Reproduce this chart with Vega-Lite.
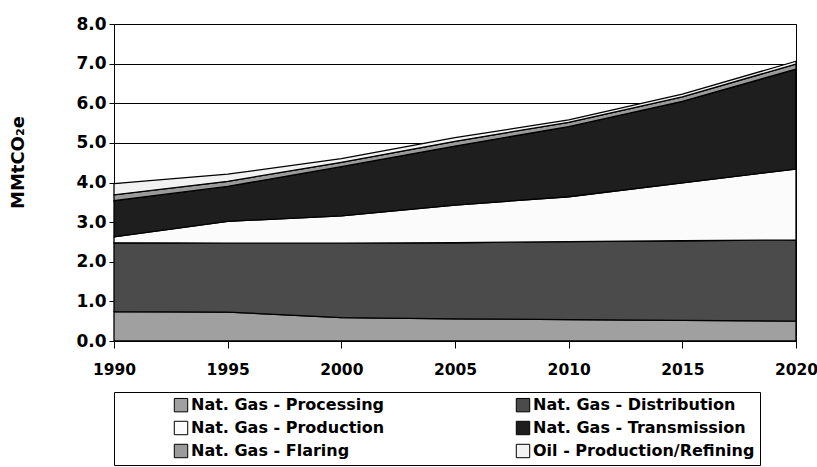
{
  "$schema": "https://vega.github.io/schema/vega-lite/v6.json",
  "width": 682,
  "height": 317,
  "autosize": {"type": "none"},
  "padding": {"left": 114, "top": 24, "right": 21, "bottom": 126},
  "background": "white",
  "config": {
    "font": "DejaVu Sans",
    "view": {"stroke": "black", "strokeWidth": 1},
    "axis": {
      "labelFont": "DejaVu Sans",
      "labelFontWeight": "bold",
      "labelColor": "black",
      "domainColor": "black",
      "tickColor": "black",
      "gridColor": "black",
      "gridOpacity": 1,
      "titleColor": "black",
      "titleFont": "DejaVu Sans",
      "titleFontWeight": "bold"
    }
  },
  "data": {
    "values": [
      {"year": 1990, "rank": 1, "source": "Nat. Gas - Processing", "value": 0.74},
      {"year": 1995, "rank": 1, "source": "Nat. Gas - Processing", "value": 0.73},
      {"year": 2000, "rank": 1, "source": "Nat. Gas - Processing", "value": 0.59},
      {"year": 2005, "rank": 1, "source": "Nat. Gas - Processing", "value": 0.56},
      {"year": 2010, "rank": 1, "source": "Nat. Gas - Processing", "value": 0.54},
      {"year": 2015, "rank": 1, "source": "Nat. Gas - Processing", "value": 0.52},
      {"year": 2020, "rank": 1, "source": "Nat. Gas - Processing", "value": 0.50},
      {"year": 1990, "rank": 2, "source": "Nat. Gas - Distribution", "value": 1.74},
      {"year": 1995, "rank": 2, "source": "Nat. Gas - Distribution", "value": 1.74},
      {"year": 2000, "rank": 2, "source": "Nat. Gas - Distribution", "value": 1.88},
      {"year": 2005, "rank": 2, "source": "Nat. Gas - Distribution", "value": 1.92},
      {"year": 2010, "rank": 2, "source": "Nat. Gas - Distribution", "value": 1.97},
      {"year": 2015, "rank": 2, "source": "Nat. Gas - Distribution", "value": 2.01},
      {"year": 2020, "rank": 2, "source": "Nat. Gas - Distribution", "value": 2.05},
      {"year": 1990, "rank": 3, "source": "Nat. Gas - Production", "value": 0.15},
      {"year": 1995, "rank": 3, "source": "Nat. Gas - Production", "value": 0.55},
      {"year": 2000, "rank": 3, "source": "Nat. Gas - Production", "value": 0.69},
      {"year": 2005, "rank": 3, "source": "Nat. Gas - Production", "value": 0.95},
      {"year": 2010, "rank": 3, "source": "Nat. Gas - Production", "value": 1.13},
      {"year": 2015, "rank": 3, "source": "Nat. Gas - Production", "value": 1.46},
      {"year": 2020, "rank": 3, "source": "Nat. Gas - Production", "value": 1.79},
      {"year": 1990, "rank": 4, "source": "Nat. Gas - Transmission", "value": 0.91},
      {"year": 1995, "rank": 4, "source": "Nat. Gas - Transmission", "value": 0.88},
      {"year": 2000, "rank": 4, "source": "Nat. Gas - Transmission", "value": 1.24},
      {"year": 2005, "rank": 4, "source": "Nat. Gas - Transmission", "value": 1.49},
      {"year": 2010, "rank": 4, "source": "Nat. Gas - Transmission", "value": 1.77},
      {"year": 2015, "rank": 4, "source": "Nat. Gas - Transmission", "value": 2.06},
      {"year": 2020, "rank": 4, "source": "Nat. Gas - Transmission", "value": 2.52},
      {"year": 1990, "rank": 5, "source": "Nat. Gas - Flaring", "value": 0.15},
      {"year": 1995, "rank": 5, "source": "Nat. Gas - Flaring", "value": 0.13},
      {"year": 2000, "rank": 5, "source": "Nat. Gas - Flaring", "value": 0.11},
      {"year": 2005, "rank": 5, "source": "Nat. Gas - Flaring", "value": 0.12},
      {"year": 2010, "rank": 5, "source": "Nat. Gas - Flaring", "value": 0.11},
      {"year": 2015, "rank": 5, "source": "Nat. Gas - Flaring", "value": 0.11},
      {"year": 2020, "rank": 5, "source": "Nat. Gas - Flaring", "value": 0.13},
      {"year": 1990, "rank": 6, "source": "Oil - Production/Refining", "value": 0.28},
      {"year": 1995, "rank": 6, "source": "Oil - Production/Refining", "value": 0.18},
      {"year": 2000, "rank": 6, "source": "Oil - Production/Refining", "value": 0.09},
      {"year": 2005, "rank": 6, "source": "Oil - Production/Refining", "value": 0.09},
      {"year": 2010, "rank": 6, "source": "Oil - Production/Refining", "value": 0.06},
      {"year": 2015, "rank": 6, "source": "Oil - Production/Refining", "value": 0.07},
      {"year": 2020, "rank": 6, "source": "Oil - Production/Refining", "value": 0.07}
    ]
  },
  "mark": {"type": "area", "stroke": "black", "strokeWidth": 1.3, "opacity": 1, "fillOpacity": 1},
  "encoding": {
    "x": {
      "field": "year",
      "type": "quantitative",
      "scale": {"domain": [1990, 2020], "nice": false, "zero": false},
      "axis": {
        "values": [1990, 1995, 2000, 2005, 2010, 2015, 2020],
        "format": "d",
        "title": null,
        "grid": false,
        "tickSize": 7,
        "labelPadding": 14,
        "labelFontSize": 15.5,
        "labelFlush": false
      }
    },
    "y": {
      "field": "value",
      "type": "quantitative",
      "stack": "zero",
      "scale": {"domain": [0, 8], "nice": false},
      "axis": {
        "values": [0, 1, 2, 3, 4, 5, 6, 7, 8],
        "format": ".1f",
        "title": "MMtCO₂e",
        "titleFontSize": 18,
        "titleX": -96,
        "titleY": 138,
        "titleBaseline": "middle",
        "titleAlign": "center",
        "grid": true,
        "tickSize": 5,
        "labelPadding": 3,
        "labelFontSize": 17
      }
    },
    "order": {"field": "rank", "type": "quantitative"},
    "color": {
      "field": "source",
      "type": "nominal",
      "sort": ["Nat. Gas - Processing", "Nat. Gas - Distribution", "Nat. Gas - Production", "Nat. Gas - Transmission", "Nat. Gas - Flaring", "Oil - Production/Refining"],
      "scale": {
        "domain": ["Nat. Gas - Processing", "Nat. Gas - Distribution", "Nat. Gas - Production", "Nat. Gas - Transmission", "Nat. Gas - Flaring", "Oil - Production/Refining"],
        "range": ["#a0a0a0", "#4b4b4b", "#fbfbfb", "#1e1e1e", "#9a9a9a", "#f2f2f2"]
      },
      "legend": {
        "title": null,
        "orient": "none",
        "direction": "horizontal",
        "legendX": 0,
        "legendY": 368,
        "columns": 2,
        "gridAlign": "all",
        "columnPadding": 48,
        "rowPadding": 5,
        "padding": 5,
        "strokeColor": "black",
        "fillColor": "white",
        "symbolType": "square",
        "symbolSize": 180,
        "symbolStrokeColor": "black",
        "symbolStrokeWidth": 1,
        "symbolOpacity": 1,
        "symbolOffset": 54,
        "labelOffset": 2,
        "labelFont": "DejaVu Sans",
        "labelFontWeight": "bold",
        "labelFontSize": 16,
        "labelColor": "black",
        "labelLimit": 400
      }
    }
  }
}
